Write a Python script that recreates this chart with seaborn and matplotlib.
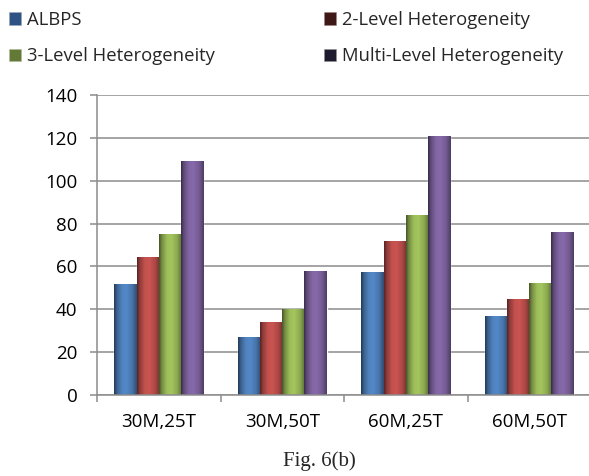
import numpy as np
import pandas as pd
import matplotlib
matplotlib.use("Agg")
import matplotlib.pyplot as plt
from matplotlib.colors import LinearSegmentedColormap, to_rgb
from matplotlib.patches import Patch
import seaborn as sns

categories = ["30M,25T", "30M,50T", "60M,25T", "60M,50T"]
series_names = ["ALBPS", "2-Level Heterogeneity", "3-Level Heterogeneity", "Multi-Level Heterogeneity"]
albps = [52, 27, 57.5, 37]
two_level = [64.5, 34, 72, 45]
three_level = [75, 40, 84, 52.5]
multi_level = [109, 58, 121, 76]
y_ticks = [0, 20, 40, 60, 80, 100, 120, 140]

base_colors = ["#4F81BD", "#C0504D", "#9BBB59", "#8064A2"]
legend_colors = ["#2E5283", "#3E1816", "#627A35", "#1F1B2E"]

sns.set_theme(style="white")
plt.rcParams['font.family'] = ['Open Sans', 'DejaVu Sans']

rows = []
for name, vals in zip(series_names, [albps, two_level, three_level, multi_level]):
    for c, v in zip(categories, vals):
        rows.append({"config": c, "value": v, "method": name})
df = pd.DataFrame(rows)

fig = plt.figure(figsize=(5.89, 4.76), dpi=100)
ax = fig.add_axes([97 / 589, 1 - 395 / 476, (591 - 97) / 589, 300 / 476])

sns.barplot(data=df, x="config", y="value", hue="method", order=categories,
            hue_order=series_names, palette=base_colors, width=0.72, gap=0,
            legend=False, ax=ax, saturation=1, errorbar=None)

# cylindrical shading on each bar
profile_pos = [0.0, 0.12, 0.35, 0.55, 0.8, 1.0]
profile_fac = [0.45, 0.75, 1.02, 1.05, 0.9, 0.6]
grad = np.linspace(0, 1, 64).reshape(1, -1)
bars = [p for p in ax.patches if p.get_height() > 0]
for p in bars:
    rgb = np.array(to_rgb(p.get_facecolor()))
    cols = [(pos, tuple(np.clip(rgb * f, 0, 1))) for pos, f in zip(profile_pos, profile_fac)]
    cmap = LinearSegmentedColormap.from_list("g", cols)
    x0 = p.get_x(); w = p.get_width(); h = p.get_height()
    im = ax.imshow(grad, extent=[x0, x0 + w, 0, h], aspect="auto", cmap=cmap,
                   zorder=p.get_zorder() + 0.1, interpolation="bilinear")
    im.set_clip_path(p)

ax.set_xlim(-0.5, 3.5)
ax.set_ylim(0, 140)
ax.set_yticks(y_ticks)
ax.set_xlabel("")
ax.set_ylabel("")

grid_col = "#8C8C8C"
ax.yaxis.grid(True, color=grid_col, linewidth=1.1)
ax.set_axisbelow(True)
for s in ["top", "right"]:
    ax.spines[s].set_visible(False)
for s in ["left", "bottom"]:
    ax.spines[s].set_color(grid_col)
    ax.spines[s].set_linewidth(1.1)

ax.tick_params(axis="y", which="major", left=True, length=5, width=1.1, color=grid_col,
               labelsize=13.5, pad=9, labelcolor="black")
ax.set_xticks(range(len(categories)))
ax.set_xticklabels(categories)
ax.set_xticks([-0.5, 0.5, 1.5, 2.5, 3.5], minor=True)
ax.tick_params(axis="x", which="major", bottom=True, length=0, labelsize=13.5, pad=13,
               labelcolor="black")
ax.tick_params(axis="x", which="minor", bottom=True, length=5, width=1.1, color=grid_col)

# legend: two columns
h1 = [Patch(facecolor=legend_colors[0], edgecolor="#9aa6b4", linewidth=0.4),
      Patch(facecolor=legend_colors[2], edgecolor="#b0b8a0", linewidth=0.4)]
h2 = [Patch(facecolor=legend_colors[1], edgecolor="#a08080", linewidth=0.4),
      Patch(facecolor=legend_colors[3], edgecolor="#909090", linewidth=0.4)]
common = dict(frameon=False, fontsize=13.3, handlelength=0.66, handleheight=0.66,
              handletextpad=0.3, labelspacing=1.0, borderaxespad=0, borderpad=0,
              loc="upper left")
leg1 = fig.legend(h1, [series_names[0], series_names[2]],
                  bbox_to_anchor=(9 / 589, 1 - 11 / 476), **common)
leg2 = fig.legend(h2, [series_names[1], series_names[3]],
                  bbox_to_anchor=(324 / 589, 1 - 11 / 476), **common)

fig.text(319 / 589, 1 - 461 / 476, "Fig. 6(b)", ha="center", va="center",
         fontsize=15, family=["Liberation Serif", "DejaVu Serif"])

fig.savefig("out.png", dpi=100)
